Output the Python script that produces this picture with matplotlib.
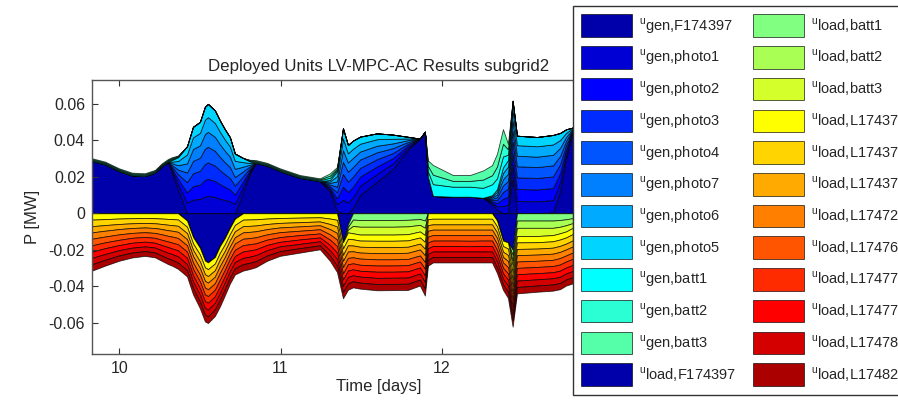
import numpy as np
import matplotlib.pyplot as plt

plt.rcParams['font.family'] = ['Liberation Sans', 'DejaVu Sans']
plt.rcParams['mathtext.fontset'] = 'custom'
plt.rcParams['mathtext.rm'] = 'Liberation Sans'
plt.rcParams['axes.unicode_minus'] = False

# time [days]
t = [9.831, 9.911, 9.998, 10.079, 10.159, 10.221, 10.265, 10.302, 10.327, 10.364,
     10.420, 10.457, 10.500, 10.531, 10.550, 10.593, 10.624, 10.655, 10.686, 10.717,
     10.767, 10.810, 10.847, 10.916, 10.996, 11.120, 11.244, 11.306, 11.350, 11.387,
     11.418, 11.449, 11.493, 11.598, 11.697, 11.790, 11.864, 11.895, 11.914, 11.945,
     12.069, 12.174, 12.255, 12.311, 12.342, 12.379, 12.410, 12.439, 12.466, 12.590,
     12.689, 12.733, 12.770, 12.812]

# generation side, values in kW
gen_F174397 = [28.7, 26.9, 23.2, 20.8, 20.5, 22.3, 26.0, 28.3, 22.3, 13.4,
               0, 0, 0, 0, 0, 0, 0, 0, 0, 0,
               11.6, 21.7, 27.7, 26.2, 23.2, 19.5, 17.7, 12.0, 1.5, 0,
               0, 3.0, 10.0, 17.4, 24.4, 35.0, 41.0, 44.8, 20.0, 9.5,
               9.1, 9.1, 8.5, 5.0, 2.0, 0, 0, 20.0, 0, 0,
               0.5, 12.0, 30.0, 45.0]
gen_photo1 = [0, 0, 0, 0, 0, 0, 0, 0, 1.1, 2.8,
              5.8, 7.5, 7.9, 9.2, 9.5, 8.9, 8.0, 7.3, 6.6, 5.2,
              3.0, 1.1, 0, 0, 0, 0, 0, 1.0, 3.4, 7.4,
              5.9, 5.8, 5.1, 4.2, 3.0, 1.1, 0, 0, 0, 0,
              0, 0, 0, 0.8, 1.8, 4.0, 4.6, 6.6, 6.7, 6.6,
              6.7, 5.1, 2.5, 0.3]
gen_photo2 = [0, 0, 0, 0, 0, 0, 0, 0, 1.0, 2.7,
              5.7, 7.4, 7.8, 9.1, 9.4, 8.8, 8.0, 7.2, 6.5, 5.1,
              2.9, 1.0, 0, 0, 0, 0, 0, 1.0, 3.3, 7.2,
              5.8, 5.7, 5.0, 4.1, 2.9, 1.1, 0, 0, 0, 0,
              0, 0, 0, 0.8, 1.7, 3.9, 4.5, 6.5, 6.6, 6.5,
              6.6, 5.0, 2.5, 0.3]
gen_photo3 = [0, 0, 0, 0, 0, 0, 0, 0, 1.1, 2.6,
              5.6, 7.1, 7.6, 8.8, 9.0, 8.5, 7.7, 6.9, 6.3, 4.9,
              2.8, 1.0, 0, 0, 0, 0, 0, 0.9, 3.3, 7.0,
              5.7, 5.6, 4.8, 4.0, 2.8, 1.0, 0, 0, 0, 0,
              0, 0, 0, 0.7, 1.7, 3.8, 4.4, 6.3, 6.4, 6.3,
              6.4, 4.8, 2.4, 0.3]
gen_photo4 = [0, 0, 0, 0, 0, 0, 0, 0, 1.0, 2.5,
              5.3, 6.8, 7.2, 8.4, 8.6, 8.1, 7.3, 6.6, 6.0, 4.7,
              2.7, 1.0, 0, 0, 0, 0, 0, 0.9, 3.1, 6.7,
              5.4, 5.3, 4.6, 3.8, 2.7, 1.0, 0, 0, 0, 0,
              0, 0, 0, 0.7, 1.6, 3.6, 4.2, 6.0, 6.1, 6.0,
              6.1, 4.6, 2.3, 0.3]
gen_photo7 = [0, 0, 0, 0, 0, 0, 0, 0, 1.0, 2.4,
              5.0, 6.5, 6.8, 8.0, 8.2, 7.7, 6.9, 6.3, 5.7, 4.5,
              2.6, 0.9, 0, 0, 0, 0, 0, 0.9, 2.9, 6.4,
              5.1, 5.0, 4.4, 3.6, 2.6, 1.0, 0, 0, 0, 0,
              0, 0, 0, 0.7, 1.5, 3.4, 4.0, 5.7, 5.8, 5.7,
              5.8, 4.4, 2.2, 0.3]
gen_photo6 = [0, 0, 0, 0, 0, 0, 0, 0, 0.9, 2.3,
              4.9, 6.4, 6.8, 7.9, 8.1, 7.6, 6.9, 6.2, 5.6, 4.4,
              2.5, 0.9, 0, 0, 0, 0, 0, 0.8, 2.9, 6.3,
              5.0, 5.0, 4.3, 3.6, 2.5, 0.9, 0, 0, 0, 0,
              0, 0, 0, 0.6, 1.5, 3.4, 3.9, 5.6, 5.8, 5.7,
              5.7, 4.3, 2.2, 0.3]
gen_photo5 = [0, 0, 0, 0, 0, 0, 0, 0, 0.9, 2.1,
              4.5, 5.8, 6.1, 7.1, 7.3, 6.9, 6.2, 5.6, 5.1, 4.0,
              2.3, 0.9, 0, 0, 0, 0, 0, 0.8, 2.6, 5.7,
              4.6, 4.5, 3.9, 3.2, 2.3, 0.9, 0, 0, 0, 0,
              0, 0, 0, 0.6, 1.4, 3.1, 3.6, 5.1, 5.2, 5.1,
              5.2, 3.9, 2.0, 0.3]
gen_batt1 = [0.5, 0.5, 0.5, 0.5, 0.5, 0.5, 0.5, 0.5, 0.5, 0.3,
             0, 0, 0, 0, 0, 0, 0, 0, 0, 0,
             0, 0.3, 0.5, 0.5, 0.5, 0.5, 0.5, 1.2, 0.8, 0,
             0, 0, 0, 0, 0, 0, 0, 0, 3.0, 6.5,
             5.5, 5.5, 5.5, 6.0, 6.0, 6.0, 3.0, 0, 0, 0,
             0, 0, 0, 0]
gen_batt2 = [0.5, 0.5, 0.5, 0.5, 0.5, 0.5, 0.5, 0.5, 0.5, 0.3,
             0, 0, 0, 0, 0, 0, 0, 0, 0, 0,
             0, 0.3, 0.5, 0.5, 0.5, 0.5, 0.5, 1.2, 0.8, 0,
             0, 0, 0, 0, 0, 0, 0, 0, 3.0, 5.2,
             3.2, 3.2, 4.5, 5.0, 6.5, 7.0, 3.0, 0, 0, 0,
             0, 0, 0, 0]
gen_batt3 = [0.5, 0.5, 0.5, 0.5, 0.5, 0.5, 0.5, 0.5, 0.5, 0.3,
             0, 0, 0, 0, 0, 0, 0, 0, 0, 0,
             0, 0.3, 0.5, 0.5, 0.5, 0.5, 0.5, 1.2, 0.8, 0,
             0, 0, 0, 0, 0, 0, 0, 0, 3.0, 5.3,
             3.2, 3.2, 5.0, 5.5, 7.0, 8.0, 3.0, 0, 0, 0,
             0, 0, 0, 0]

# load side, values in kW
load_F174397 = [0, 0, 0, 0, 0, 0, 0, 0, 0, 0,
                4, 13, 19, 26, 27, 24, 18, 13.5, 8, 3,
                0, 0, 0, 0, 0, 0, 0, 0, 0, 16,
                6, 0, 0, 0, 0, 0, 0, 0, 0, 0,
                0, 0, 0, 0, 4, 15, 16, 20, 0, 0,
                0, 0, 0, 0]
load_batt1 = [0, 0, 0, 0, 0, 0, 0, 0, 0, 0,
              0, 0, 0, 0, 0, 0, 0, 0, 0, 0,
              0, 0, 0, 0, 0, 0, 0, 0, 0, 0,
              1.5, 3.5, 3.7, 3.7, 3.7, 3.6, 3.2, 4.0, 0, 0,
              0, 0, 0, 0, 0, 0, 0, 3.0, 4.0, 4.0,
              4.0, 3.7, 3.3, 2.7]
load_batt2 = [0, 0, 0, 0, 0, 0, 0, 0, 0, 0,
              0, 0, 0, 0, 0, 0, 0, 0, 0, 0,
              0, 0, 0, 0, 0, 0, 0, 0, 0, 0,
              1.5, 3.5, 3.7, 3.7, 3.7, 3.6, 3.2, 4.0, 0, 0,
              0, 0, 0, 0, 0, 0, 0, 3.0, 4.0, 4.0,
              4.0, 3.7, 3.3, 2.7]
load_batt3 = [0, 0, 0, 0, 0, 0, 0, 0, 0, 0,
              0, 0, 0, 0, 0, 0, 0, 0, 0, 0,
              0, 0, 0, 0, 0, 0, 0, 0, 0, 0,
              1.5, 4.0, 4.3, 4.3, 4.3, 4.3, 3.6, 4.0, 0, 0,
              0, 0, 0, 0, 0, 0, 0, 3.0, 4.5, 4.5,
              4.0, 3.6, 3.4, 2.6]
load_L174372 = [3.5, 3.2, 2.9, 2.7, 2.6, 2.7, 2.9, 3.1, 3.2, 3.4,
                3.4, 3.5, 3.7, 3.7, 3.7, 3.6, 3.7, 3.5, 3.4, 3.4,
                3.5, 3.4, 3.3, 2.9, 2.6, 2.4, 2.2, 2.9, 3.6, 3.4,
                3.5, 3.3, 3.3, 3.4, 3.4, 3.4, 3.3, 3.7, 3.2, 3.0,
                3.0, 3.0, 3.0, 3.0, 3.2, 3.0, 3.4, 3.7, 3.5, 3.4,
                3.4, 3.4, 3.3, 3.4]
load_L174373 = [3.6, 3.3, 3.0, 2.8, 2.7, 2.8, 3.0, 3.2, 3.3, 3.5,
                3.5, 3.6, 3.8, 3.8, 3.8, 3.7, 3.7, 3.6, 3.5, 3.5,
                3.6, 3.5, 3.4, 3.0, 2.7, 2.5, 2.3, 3.0, 3.7, 3.5,
                3.6, 3.4, 3.4, 3.5, 3.5, 3.5, 3.4, 3.8, 3.3, 3.1,
                3.1, 3.1, 3.1, 3.1, 3.3, 3.1, 3.5, 3.8, 3.6, 3.5,
                3.5, 3.5, 3.4, 3.5]
load_L174374 = [3.4, 3.1, 2.8, 2.6, 2.5, 2.6, 2.8, 3.0, 3.1, 3.3,
                3.3, 3.4, 3.6, 3.6, 3.6, 3.5, 3.6, 3.4, 3.3, 3.3,
                3.4, 3.3, 3.2, 2.8, 2.5, 2.3, 2.1, 2.8, 3.5, 3.3,
                3.4, 3.2, 3.2, 3.3, 3.3, 3.3, 3.2, 3.6, 3.1, 2.9,
                2.9, 2.9, 2.9, 2.9, 3.1, 2.9, 3.3, 3.6, 3.4, 3.3,
                3.3, 3.3, 3.2, 3.3]
load_L174723 = [3.5, 3.2, 2.9, 2.7, 2.6, 2.7, 2.9, 3.1, 3.2, 3.4,
                3.4, 3.5, 3.7, 3.7, 3.7, 3.6, 3.7, 3.5, 3.4, 3.4,
                3.5, 3.4, 3.3, 2.9, 2.6, 2.4, 2.2, 2.9, 3.6, 3.4,
                3.5, 3.3, 3.3, 3.4, 3.4, 3.4, 3.3, 3.7, 3.2, 3.0,
                3.0, 3.0, 3.0, 3.0, 3.2, 3.0, 3.4, 3.7, 3.5, 3.4,
                3.4, 3.4, 3.3, 3.4]
load_L174766 = [3.6, 3.2, 3.0, 2.7, 2.6, 2.7, 3.0, 3.1, 3.3, 3.4,
                3.5, 3.5, 3.7, 3.8, 3.7, 3.6, 3.8, 3.5, 3.4, 3.5,
                3.5, 3.4, 3.3, 2.9, 2.7, 2.4, 2.3, 2.9, 3.6, 3.5,
                3.5, 3.3, 3.4, 3.4, 3.4, 3.4, 3.3, 3.7, 3.2, 3.0,
                3.0, 3.1, 3.0, 3.0, 3.3, 3.0, 3.4, 3.7, 3.5, 3.4,
                3.4, 3.5, 3.3, 3.4]
load_L174771 = [3.5, 3.2, 2.9, 2.7, 2.6, 2.7, 2.9, 3.1, 3.2, 3.4,
                3.4, 3.5, 3.7, 3.7, 3.7, 3.6, 3.7, 3.5, 3.4, 3.4,
                3.5, 3.4, 3.3, 2.9, 2.6, 2.4, 2.2, 2.9, 3.6, 3.4,
                3.5, 3.3, 3.3, 3.4, 3.4, 3.4, 3.3, 3.7, 3.2, 3.0,
                3.0, 3.0, 3.0, 3.0, 3.2, 3.0, 3.4, 3.7, 3.5, 3.4,
                3.4, 3.4, 3.3, 3.4]
load_L174776 = [3.4, 3.2, 2.8, 2.7, 2.6, 2.6, 2.9, 3.1, 3.1, 3.3,
                3.4, 3.5, 3.6, 3.7, 3.7, 3.6, 3.6, 3.5, 3.4, 3.3,
                3.5, 3.4, 3.2, 2.9, 2.5, 2.4, 2.1, 2.9, 3.5, 3.4,
                3.5, 3.3, 3.2, 3.4, 3.3, 3.4, 3.3, 3.6, 3.2, 3.0,
                3.0, 2.9, 3.0, 3.0, 3.1, 3.0, 3.3, 3.7, 3.5, 3.4,
                3.3, 3.4, 3.3, 3.3]
load_L174781 = [3.5, 3.2, 2.9, 2.7, 2.6, 2.7, 2.9, 3.1, 3.2, 3.4,
                3.4, 3.5, 3.7, 3.7, 3.7, 3.6, 3.7, 3.5, 3.4, 3.4,
                3.5, 3.4, 3.3, 2.9, 2.6, 2.4, 2.2, 2.9, 3.6, 3.4,
                3.5, 3.3, 3.3, 3.4, 3.4, 3.4, 3.3, 3.7, 3.2, 3.0,
                3.0, 3.0, 3.0, 3.0, 3.2, 3.0, 3.4, 3.7, 3.5, 3.4,
                3.4, 3.4, 3.3, 3.4]
load_L174825 = [3.5, 3.2, 2.9, 2.7, 2.6, 2.7, 2.9, 3.1, 3.2, 3.4,
                3.4, 3.5, 3.7, 3.7, 3.7, 3.6, 3.7, 3.5, 3.4, 3.4,
                3.5, 3.4, 3.3, 2.9, 2.6, 2.4, 2.2, 2.9, 3.6, 3.4,
                3.5, 3.3, 3.3, 3.4, 3.4, 3.4, 3.3, 3.7, 3.2, 3.0,
                3.0, 3.0, 3.0, 3.0, 3.2, 3.0, 3.4, 3.7, 3.5, 3.4,
                3.4, 3.4, 3.3, 3.4]

gen_series = [gen_F174397, gen_photo1, gen_photo2, gen_photo3, gen_photo4,
              gen_photo7, gen_photo6, gen_photo5, gen_batt1, gen_batt2, gen_batt3]
gen_names = ['gen,F174397', 'gen,photo1', 'gen,photo2', 'gen,photo3', 'gen,photo4',
             'gen,photo7', 'gen,photo6', 'gen,photo5', 'gen,batt1', 'gen,batt2', 'gen,batt3']
load_series = [load_F174397, load_batt1, load_batt2, load_batt3,
               load_L174372, load_L174373, load_L174374, load_L174723, load_L174766,
               load_L174771, load_L174776, load_L174781, load_L174825]
load_names = ['load,F174397', 'load,batt1', 'load,batt2', 'load,batt3',
              'load,L174372', 'load,L174373', 'load,L174374', 'load,L174723', 'load,L174766',
              'load,L174771', 'load,L174776', 'load,L174781', 'load,L174825']

# MATLAB jet(24) colours
gen_colors = ['#0000AA', '#0000D4', '#0000FF', '#002BFF', '#0055FF', '#0080FF',
              '#00AAFF', '#00D4FF', '#00FFFF', '#2BFFD4', '#55FFAA']
load_colors = ['#0000AA', '#80FF80', '#AAFF55', '#D4FF2B', '#FFFF00', '#FFD400',
               '#FFAA00', '#FF8000', '#FF5500', '#FF2B00', '#FF0000', '#D40000', '#AA0000']

yticks = [-0.06, -0.04, -0.02, 0, 0.02, 0.04, 0.06]
ytick_labels = ['-0.06', '-0.04', '-0.02', '0', '0.02', '0.04', '0.06']
xticks = [10, 11, 12, 13]

fig = plt.figure(figsize=(8.98, 4.0), dpi=100)
# the axes runs on underneath the legend, as in the original figure
ax = fig.add_axes([92 / 898, 46 / 400, 574 / 898, 274 / 400])

kw = dict(edgecolor=(0, 0, 0, 0.75), linewidth=0.6)
pos = ax.stackplot(t, *[np.array(s) / 1000 for s in gen_series], colors=gen_colors, **kw)
neg = ax.stackplot(t, *[-np.array(s) / 1000 for s in load_series], colors=load_colors, **kw)

ax.set_xlim(9.831, 13.39)
ax.set_ylim(-0.0773, 0.0732)
ax.set_xticks(xticks)
ax.set_xticklabels([str(x) for x in xticks])
ax.set_yticks(yticks)
ax.set_yticklabels(ytick_labels)
ax.tick_params(direction='in', length=4, top=True, right=True, labelsize=11.5,
               pad=5, color='#333333', labelcolor='#262626')
for sp in ax.spines.values():
    sp.set_color('#555555')
    sp.set_linewidth(1.0)

ax.set_title('Deployed Units LV-MPC-AC Results subgrid2', fontsize=12.2, pad=6.5, color='#262626')
ax.set_xlabel('Time [days]', fontsize=12, labelpad=2, color='#262626')
ax.set_ylabel('P [MW]', fontsize=12, labelpad=6, color='#262626')

labels = [r'$^{\mathregular{u}}$' + n for n in gen_names + load_names]
leg = fig.legend(pos + neg, labels, ncol=2, loc='upper left',
                 bbox_to_anchor=(572.7 / 898, 1 - 5.7 / 400), fontsize=10.5,
                 handlelength=3.5, handleheight=2.0, handletextpad=0.43,
                 labelspacing=0.63, columnspacing=1.2, borderpad=0.6,
                 borderaxespad=0, fancybox=False, framealpha=1, edgecolor='#333333')
leg.get_frame().set_linewidth(1.0)
for txt in leg.get_texts():
    txt.set_color('#262626')

fig.savefig('out.png', dpi=100)
